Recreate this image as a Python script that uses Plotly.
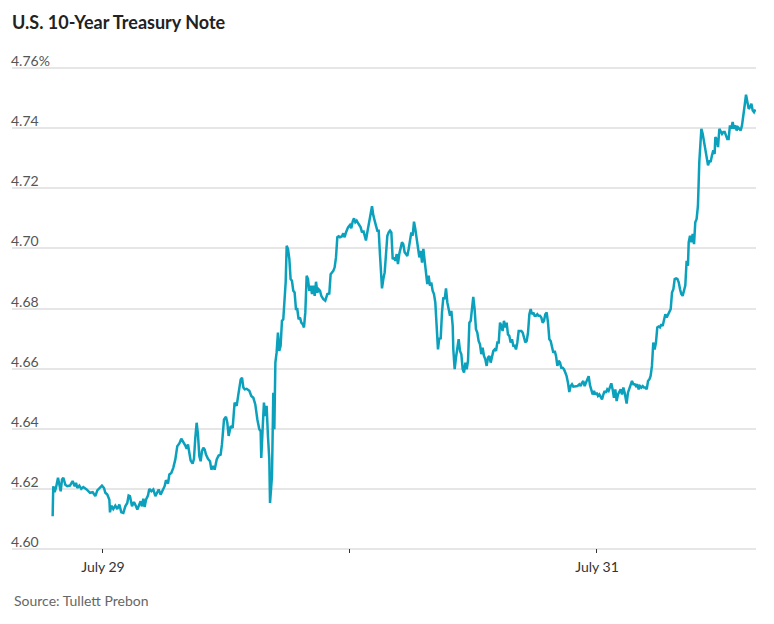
import pandas as pd
import plotly.graph_objects as go

# Hours relative to July 29 00:00 and the 10-year yield (%)
hours_a = [-4.89, -4.83, -4.70, -4.57, -4.37, -4.24, -4.11, -3.98, -3.85, -3.66,
           -3.47, -3.21, -2.95, -2.75, -2.62, -2.49, -2.30, -2.11, -1.91, -1.59,
           -1.26, -1.00, -0.74, -0.55, -0.29, -0.10, 0.10, 0.23, 0.42, 0.62,
           0.68, 0.81, 1.00, 1.20, 1.39, 1.59, 1.78, 1.98, 2.17, 2.36,
           2.49, 2.62, 2.82, 3.01, 3.21, 3.34, 3.53, 3.66, 3.79, 3.92,
           4.05, 4.18, 4.37, 4.50, 4.70, 4.89, 5.09, 5.28, 5.41, 5.60,
           5.80, 5.99, 6.12, 6.32, 6.45, 6.64, 6.83, 7.03, 7.22, 7.42,
           7.61, 7.81, 8.00, 8.13, 8.26, 8.39, 8.52, 8.71, 8.84, 8.97,
           9.10, 9.23, 9.36, 9.49, 9.62, 9.75, 9.88, 10.01, 10.20, 10.40,
           10.53, 10.72, 10.85, 11.05, 11.24, 11.43, 11.56, 11.76, 11.95, 12.08,
           12.21, 12.41, 12.60, 12.79, 12.99, 13.18, 13.38, 13.51, 13.64, 13.77,
           13.96, 14.22, 14.41, 14.61, 14.80, 15.00, 15.19, 15.32, 15.38, 15.51,
           15.64, 15.77, 15.90, 16.03, 16.16]
yield_a = [4.6109, 4.6209, 4.6189, 4.6203, 4.6237, 4.6214, 4.6192, 4.6231, 4.6237, 4.6214,
           4.6209, 4.6211, 4.6226, 4.6209, 4.6220, 4.6203, 4.6211, 4.6200, 4.6206, 4.6198,
           4.6187, 4.6189, 4.6176, 4.6195, 4.6206, 4.6211, 4.6203, 4.6187, 4.6181, 4.6164,
           4.6122, 4.6144, 4.6133, 4.6144, 4.6133, 4.6148, 4.6122, 4.6120, 4.6142, 4.6153,
           4.6178, 4.6176, 4.6142, 4.6156, 4.6142, 4.6131, 4.6148, 4.6159, 4.6142, 4.6167,
           4.6140, 4.6164, 4.6178, 4.6200, 4.6192, 4.6198, 4.6176, 4.6187, 4.6198, 4.6181,
           4.6196, 4.6209, 4.6229, 4.6218, 4.6248, 4.6253, 4.6270, 4.6298, 4.6342, 4.6351,
           4.6367, 4.6356, 4.6344, 4.6333, 4.6348, 4.6320, 4.6294, 4.6284, 4.6300, 4.6370,
           4.6420, 4.6381, 4.6309, 4.6292, 4.6326, 4.6337, 4.6331, 4.6314, 4.6300, 4.6292,
           4.6264, 4.6276, 4.6264, 4.6298, 4.6311, 4.6314, 4.6348, 4.6431, 4.6440, 4.6420,
           4.6376, 4.6409, 4.6403, 4.6487, 4.6476, 4.6520, 4.6564, 4.6570, 4.6537, 4.6531,
           4.6533, 4.6526, 4.6509, 4.6503, 4.6481, 4.6431, 4.6398, 4.6392, 4.6303, 4.6398,
           4.6487, 4.6442, 4.6476, 4.6376, 4.6298]

hours_b = [16.23, 16.42, 16.55, 16.65, 16.75, 16.87, 17.00, 17.13, 17.26, 17.39,
           17.52, 17.62, 17.75, 17.85, 17.98, 18.11, 18.23, 18.36, 18.49, 18.62,
           18.75, 18.88, 19.01, 19.14, 19.27, 19.40, 19.53, 19.66, 19.79, 19.92,
           20.05, 20.18, 20.31, 20.44, 20.57, 20.70, 20.83, 20.96, 21.09, 21.21,
           21.41, 21.60, 21.80, 21.99, 22.12, 22.25, 22.38, 22.51, 22.64, 22.77,
           22.90, 23.03, 23.22, 23.35, 23.48, 23.61, 23.81, 24.00, 24.13, 24.26,
           24.39, 24.52, 24.65, 24.84, 25.04, 25.17, 25.30, 25.43, 25.55, 25.68,
           25.81, 25.94, 26.07, 26.14, 26.27, 26.40, 26.53, 26.66, 26.79, 26.92,
           27.05, 27.11, 27.24, 27.37, 27.50, 27.63, 27.76, 27.89, 28.02, 28.15,
           28.28, 28.41, 28.54, 28.66, 28.79, 28.92, 29.05, 29.18, 29.31, 29.44,
           29.57, 29.70]
yield_b = [4.6153, 4.6242, 4.6520, 4.6398, 4.6620, 4.6653, 4.6720, 4.6659, 4.6676, 4.6759,
           4.6764, 4.6814, 4.6887, 4.7009, 4.6998, 4.6964, 4.6898, 4.6892, 4.6859, 4.6853,
           4.6798, 4.6798, 4.6764, 4.6770, 4.6753, 4.6748, 4.6737, 4.6787, 4.6909, 4.6898,
           4.6859, 4.6876, 4.6848, 4.6876, 4.6842, 4.6889, 4.6853, 4.6864, 4.6859, 4.6842,
           4.6831, 4.6826, 4.6848, 4.6850, 4.6914, 4.6920, 4.6925, 4.6937, 4.6970, 4.7037,
           4.7040, 4.7037, 4.7040, 4.7050, 4.7037, 4.7053, 4.7070, 4.7078, 4.7067, 4.7089,
           4.7100, 4.7087, 4.7092, 4.7081, 4.7070, 4.7053, 4.7059, 4.7042, 4.7026, 4.7053,
           4.7075, 4.7098, 4.7120, 4.7140, 4.7109, 4.7087, 4.7075, 4.7059, 4.7059, 4.6976,
           4.6898, 4.6867, 4.6898, 4.6920, 4.6981, 4.7042, 4.7053, 4.7059, 4.7053, 4.6964,
           4.6970, 4.6959, 4.6981, 4.6948, 4.6981, 4.6998, 4.7020, 4.7014, 4.6987, 4.6981,
           4.6975, 4.6998]

hours_c = [29.83, 29.96, 30.09, 30.22, 30.35, 30.48, 30.61, 30.74, 30.87, 31.00,
           31.13, 31.26, 31.38, 31.51, 31.64, 31.77, 31.90, 32.03, 32.16, 32.29,
           32.42, 32.55, 32.68, 32.81, 32.94, 33.07, 33.20, 33.33, 33.46, 33.59,
           33.72, 33.85, 33.98, 34.04, 34.17, 34.30, 34.43, 34.56, 34.69, 34.82,
           34.95, 35.08, 35.21, 35.34, 35.47, 35.60, 35.73, 35.85, 35.98, 36.11,
           36.24, 36.37, 36.50, 36.63, 36.76, 36.89, 37.02, 37.15, 37.28, 37.41,
           37.54, 37.67, 37.80, 37.93, 38.06, 38.19, 38.32, 38.45, 38.58, 38.71,
           38.83, 38.96, 39.09, 39.22, 39.35, 39.48, 39.61, 39.74, 39.87, 40.00,
           40.13, 40.26, 40.39, 40.52, 40.65, 40.78, 40.91, 41.04, 41.17, 41.30,
           41.43, 41.56, 41.68, 41.81, 41.94, 42.07, 42.20, 42.33, 42.46, 42.59,
           42.72, 42.85, 42.98, 43.11, 43.24, 43.37, 43.50, 43.63, 43.76, 43.89,
           44.02, 44.15, 44.28, 44.41, 44.53, 44.66, 44.79, 44.92, 45.05, 45.18,
           45.31, 45.44, 45.57, 45.70, 45.90, 46.09, 46.28, 46.41, 46.54, 46.67,
           46.80, 46.93, 47.06, 47.19]
yield_c = [4.7020, 4.7053, 4.7042, 4.7089, 4.7064, 4.7026, 4.6987, 4.6970, 4.6992, 4.6953,
           4.6998, 4.6953, 4.6926, 4.6881, 4.6909, 4.6876, 4.6887, 4.6859, 4.6848, 4.6820,
           4.6742, 4.6664, 4.6703, 4.6698, 4.6787, 4.6837, 4.6831, 4.6867, 4.6820, 4.6803,
           4.6776, 4.6792, 4.6742, 4.6664, 4.6598, 4.6637, 4.6676, 4.6698, 4.6659, 4.6648,
           4.6598, 4.6587, 4.6620, 4.6598, 4.6626, 4.6753, 4.6759, 4.6798, 4.6839, 4.6798,
           4.6731, 4.6720, 4.6692, 4.6681, 4.6648, 4.6670, 4.6642, 4.6631, 4.6609, 4.6637,
           4.6642, 4.6620, 4.6637, 4.6659, 4.6664, 4.6659, 4.6687, 4.6687, 4.6753, 4.6742,
           4.6725, 4.6759, 4.6737, 4.6753, 4.6714, 4.6709, 4.6687, 4.6698, 4.6676, 4.6676,
           4.6664, 4.6687, 4.6725, 4.6725, 4.6725, 4.6720, 4.6698, 4.6687, 4.6692, 4.6720,
           4.6781, 4.6798, 4.6781, 4.6787, 4.6776, 4.6776, 4.6781, 4.6776, 4.6776, 4.6770,
           4.6753, 4.6759, 4.6781, 4.6787, 4.6753, 4.6698, 4.6692, 4.6670, 4.6653, 4.6659,
           4.6642, 4.6609, 4.6626, 4.6620, 4.6603, 4.6603, 4.6598, 4.6587, 4.6575, 4.6553,
           4.6522, 4.6542, 4.6548, 4.6540, 4.6542, 4.6542, 4.6548, 4.6542, 4.6553, 4.6559,
           4.6542, 4.6553, 4.6570, 4.6575]

hours_d = [47.32, 47.45, 47.58, 47.71, 47.84, 47.97, 48.10, 48.23, 48.36, 48.49,
           48.62, 48.75, 48.87, 49.00, 49.13, 49.26, 49.39, 49.52, 49.65, 49.78,
           49.91, 50.04, 50.17, 50.30, 50.43, 50.56, 50.69, 50.82, 50.88, 51.01,
           51.14, 51.27, 51.40, 51.53, 51.66, 51.79, 51.92, 52.05, 52.18, 52.31,
           52.44, 52.57, 52.70, 52.83, 52.96, 53.09, 53.21, 53.34, 53.47, 53.60,
           53.73, 53.86, 53.99, 54.12, 54.25, 54.38, 54.51, 54.64, 54.77, 54.90,
           55.03, 55.16, 55.29, 55.42, 55.55, 55.68, 55.81, 55.94, 56.07, 56.19,
           56.32, 56.45, 56.58, 56.71, 56.84, 56.91, 57.04, 57.17, 57.30, 57.43,
           57.55, 57.68, 57.81, 57.94, 58.01, 58.14, 58.27, 58.40, 58.53, 58.66,
           58.79, 58.92, 59.04, 59.17, 59.30, 59.43, 59.50, 59.63, 59.76, 59.89,
           60.02, 60.15, 60.28, 60.41, 60.53, 60.66, 60.79, 60.92, 61.05, 61.18,
           61.31, 61.44, 61.57, 61.70, 61.83, 61.96, 62.09, 62.22, 62.35, 62.48,
           62.61, 62.74, 62.87, 63.00, 63.13, 63.26, 63.39]
yield_d = [4.6545, 4.6531, 4.6514, 4.6526, 4.6514, 4.6520, 4.6509, 4.6514, 4.6503, 4.6498,
           4.6514, 4.6526, 4.6520, 4.6531, 4.6526, 4.6542, 4.6551, 4.6531, 4.6503, 4.6531,
           4.6492, 4.6514, 4.6526, 4.6531, 4.6514, 4.6537, 4.6520, 4.6498, 4.6484, 4.6520,
           4.6531, 4.6548, 4.6559, 4.6548, 4.6548, 4.6542, 4.6548, 4.6531, 4.6542, 4.6537,
           4.6542, 4.6537, 4.6537, 4.6531, 4.6559, 4.6564, 4.6576, 4.6609, 4.6687, 4.6664,
           4.6687, 4.6737, 4.6740, 4.6737, 4.6748, 4.6742, 4.6764, 4.6781, 4.6770, 4.6781,
           4.6792, 4.6798, 4.6853, 4.6864, 4.6898, 4.6900, 4.6898, 4.6887, 4.6864, 4.6848,
           4.6842, 4.6859, 4.6876, 4.6959, 4.6942, 4.7020, 4.7042, 4.7020, 4.7048, 4.7014,
           4.7087, 4.7098, 4.7142, 4.7287, 4.7342, 4.7398, 4.7381, 4.7353, 4.7326, 4.7309,
           4.7276, 4.7292, 4.7287, 4.7309, 4.7326, 4.7314, 4.7370, 4.7364, 4.7337, 4.7398,
           4.7387, 4.7381, 4.7387, 4.7387, 4.7376, 4.7364, 4.7364, 4.7409, 4.7398, 4.7420,
           4.7398, 4.7409, 4.7392, 4.7403, 4.7398, 4.7392, 4.7409, 4.7453, 4.7476, 4.7511,
           4.7487, 4.7464, 4.7470, 4.7481, 4.7459, 4.7453, 4.7462]

y_ticks = [4.60, 4.62, 4.64, 4.66, 4.68, 4.70, 4.72, 4.74, 4.76]
y_tick_text = ["4.60", "4.62", "4.64", "4.66", "4.68", "4.70", "4.72", "4.74", "4.76%"]
y_range = [4.59867, 4.76599]
x_tick_days = ["2026-07-29", "2026-07-30", "2026-07-31"]
x_tick_text = ["July 29", "", "July 31"]
x_range_hours = [-8.84, 63.45]

hours = hours_a + hours_b + hours_c + hours_d
yields = yield_a + yield_b + yield_c + yield_d
assert len(hours) == len(yields)

base = pd.Timestamp("2026-07-29 00:00")
times = [base + pd.Timedelta(hours=h) for h in hours]
x_range = [base + pd.Timedelta(hours=h) for h in x_range_hours]

fig = go.Figure()
fig.add_trace(go.Scatter(
    x=times, y=yields, mode="lines",
    line=dict(color="#0ba1bd", width=2.5),
    hoverinfo="skip", showlegend=False,
))

FONT = "Lato, 'Noto Sans', Arial, sans-serif"
W, H = 766, 616  # the page body adds an 8px margin around the figure
PLOT_H = 503

fig.update_layout(
    width=W, height=H,
    margin=dict(l=4, r=18, t=42, b=H - 42 - PLOT_H),
    paper_bgcolor="white", plot_bgcolor="white",
    font=dict(family=FONT, size=14, color="#555"),
    title=dict(
        text="<b>U.S. 10-Year Treasury Note</b>",
        font=dict(family=FONT, size=18, color="#222"),
        xref="container", yref="container",
        x=4 / W, xanchor="left",
        y=1 - 14.5 / H, yanchor="middle",
    ),
    xaxis=dict(
        type="date",
        range=x_range,
        tickvals=[pd.Timestamp(d) for d in x_tick_days],
        ticktext=x_tick_text,
        ticks="inside", ticklen=4, tickwidth=1, tickcolor="#333",
        ticklabelstandoff=4,
        showgrid=False, zeroline=False, showline=False,
        tickfont=dict(family=FONT, size=14, color="#333"),
    ),
    yaxis=dict(
        range=y_range,
        tickvals=y_ticks,
        ticktext=y_tick_text,
        ticklabelposition="inside top",
        ticklabelstandoff=-4,
        ticklabelshift=3,
        ticks="",
        showgrid=True, gridcolor="#e6e6e6", gridwidth=1.5,
        zeroline=False, showline=False,
        tickfont=dict(family=FONT, size=14, color="#555"),
    ),
    annotations=[dict(
        text="Source: Tullett Prebon",
        xref="paper", yref="paper",
        x=0, y=-(593 - (42 + PLOT_H)) / PLOT_H,
        xanchor="left", yanchor="middle",
        showarrow=False,
        font=dict(family=FONT, size=14, color="#666"),
    )],
)

fig.write_html("out.html")
